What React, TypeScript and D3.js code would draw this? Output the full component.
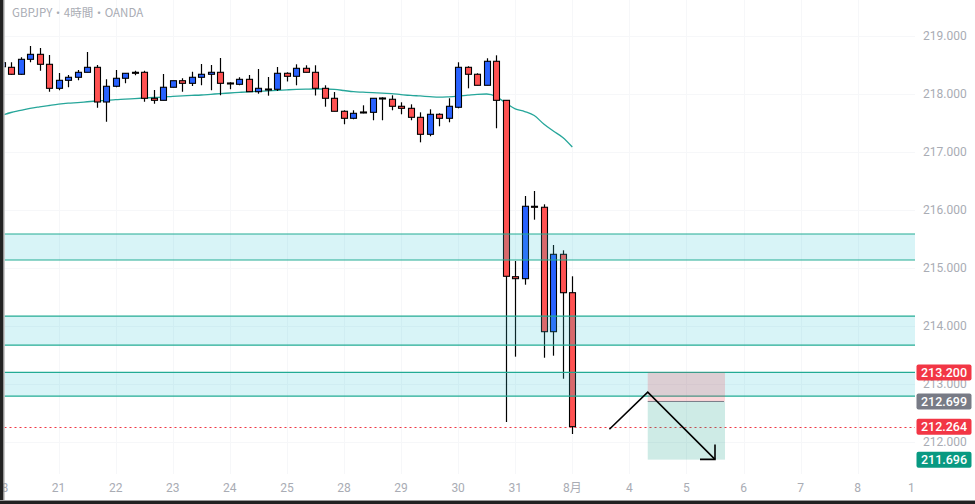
import { useEffect, useRef } from "react";
import * as d3 from "d3";

const WIDTH = 975;
const HEIGHT = 504;

// 4H candles, index 0 = Jul 18 00:00 ... index 60 = Aug 1 00:00
const opens = [
  218.47, 218.46, 218.34, 218.598, 218.684, 218.512, 218.098, 218.236, 218.288, 218.374,
  218.46, 217.862, 218.133, 218.271, 218.374, 218.374, 217.926, 217.891, 218.116, 218.229,
  218.184, 218.288, 218.34, 218.374, 218.19, 218.167, 218.253, 218.04, 218.086, 218.081,
  218.357, 218.305, 218.443, 218.374, 218.098, 217.926, 217.702, 217.581, 217.69, 217.684,
  217.931, 217.909, 217.788, 217.753, 217.598, 217.305, 217.65, 217.581, 217.771, 218.46,
  218.34, 218.15, 218.564, 217.891, 214.85, 214.816, 216.064, 216.047, 213.902, 215.236,
  214.574,
];
const highs = [
  218.56, 218.547, 218.633, 218.828, 218.793, 218.672, 218.362, 218.328, 218.414, 218.724,
  218.5, 218.253, 218.414, 218.36, 218.402, 218.402, 218.069, 218.345, 218.229, 218.271,
  218.384, 218.517, 218.5, 218.621, 218.202, 218.288, 218.328, 218.431, 218.293, 218.466,
  218.374, 218.512, 218.495, 218.495, 218.15, 218.034, 217.719, 217.719, 217.805, 217.926,
  217.943, 217.978, 217.857, 217.822, 217.684, 217.736, 217.667, 217.926, 218.547, 218.478,
  218.357, 218.616, 218.667, 217.891, 215.121, 216.241, 216.328, 216.098, 215.397, 215.305,
  214.857,
];
const lows = [
  218.44, 218.33, 218.33, 218.547, 218.402, 218.04, 218.064, 218.116, 218.236, 218.374,
  217.764, 217.522, 218.116, 218.184, 218.322, 217.867, 217.833, 217.891, 218.116, 218.04,
  218.138, 218.15, 218.064, 217.978, 218.081, 218.15, 218.04, 218.005, 217.971, 218.052,
  218.216, 218.15, 218.374, 217.974, 217.781, 217.702, 217.478, 217.564, 217.667, 217.547,
  217.547, 217.719, 217.65, 217.547, 217.167, 217.271, 217.443, 217.512, 217.753, 218.098,
  218.15, 218.15, 217.409, 212.345, 213.471, 214.712, 215.833, 213.453, 213.488, 213.091,
  212.138,
];
const closes = [
  218.54, 218.34, 218.598, 218.684, 218.512, 218.098, 218.236, 218.288, 218.374, 218.46,
  217.862, 218.133, 218.271, 218.357, 218.364, 217.926, 217.891, 218.116, 218.229, 218.184,
  218.288, 218.34, 218.374, 218.184, 218.18, 218.253, 218.04, 218.098, 218.076, 218.357,
  218.305, 218.443, 218.374, 218.098, 217.926, 217.702, 217.581, 217.667, 217.679, 217.926,
  217.921, 217.788, 217.753, 217.598, 217.305, 217.65, 217.581, 217.788, 218.46, 218.34,
  218.15, 218.564, 217.891, 214.857, 214.816, 216.064, 216.055, 213.902, 215.236, 214.574,
  212.264,
];
const maValues = [
  217.629, 217.681, 217.716, 217.753, 217.779, 217.802, 217.824, 217.841, 217.853, 217.866,
  217.879, 217.89, 217.902, 217.91, 217.921, 217.931, 217.94, 217.948, 217.96, 217.969,
  217.976, 217.983, 217.995, 218.007, 218.017, 218.028, 218.038, 218.047, 218.055, 218.064,
  218.072, 218.079, 218.083, 218.086, 218.086, 218.078, 218.06, 218.04, 218.031, 218.022,
  218.016, 218.005, 217.99, 217.976, 217.966, 217.955, 217.945, 217.952, 217.964, 217.979,
  217.995, 218.0, 217.957, 217.845, 217.745, 217.698, 217.629, 217.483, 217.362, 217.25,
  217.086,
];

// time axis: first 4H bar of each day
const dayLabels = ["18", "21", "22", "23", "24", "25", "28", "29", "30", "31", "8月", "4", "5", "6", "7", "8", "11"];
const dayBarIndex = [0, 6, 12, 18, 24, 30, 36, 42, 48, 54, 60, 66, 72, 78, 84, 90, 96];

const priceTicks = [212, 213, 214, 215, 216, 217, 218, 219];

// support / resistance zones
const zoneTops = [215.586, 214.17, 213.2];
const zoneBottoms = [215.138, 213.67, 212.79];

const lastPrice = 212.264;

// short position tool
const stopPrice = 213.2;
const entryPrice = 212.699;
const targetPrice = 211.696;
const positionFrom = 67.93;
const positionTo = 76.05;

// hand drawn zigzag arrow
const arrowBars = [63.9, 67.93, 75.0];
const arrowPrices = [212.22, 212.86, 211.7];

const COLORS = {
  up: "#2962ff",
  down: "#ff5252",
  outline: "#000000",
  ma: "#26a69a",
  zoneLine: "#22ab94",
  zoneFill: "rgba(60, 200, 215, 0.2)",
  axisText: "#a9acb4",
  lastPrice: "#f23645",
  entry: "#787b86",
  target: "#089981",
  stopFill: "rgba(242, 54, 69, 0.2)",
  targetFill: "rgba(8, 153, 129, 0.2)",
  frame: "#222222",
};

const FONT = "Roboto, 'Noto Sans CJK JP', sans-serif";
const plot = { left: 4.5, right: 915, top: 0, bottom: 474 };

export default function App() {
  const svgRef = useRef<SVGSVGElement>(null);

  useEffect(() => {
    if (!svgRef.current) return;
    const svg = d3.select(svgRef.current);
    svg.selectAll("*").remove();

    const x = d3.scaleLinear().domain([0, 60]).range([1.5, 572.3]);
    const y = d3.scaleLinear().domain([212, 219]).range([442, 36]);

    svg.append("rect").attr("width", WIDTH).attr("height", HEIGHT).attr("fill", "#ffffff");

    const defs = svg.append("defs");
    defs.append("clipPath").attr("id", "plot-clip")
      .append("rect")
      .attr("x", plot.left).attr("y", plot.top)
      .attr("width", plot.right - plot.left).attr("height", plot.bottom - plot.top);

    // ============ GRID ============
    const grid = svg.append("g").attr("clip-path", "url(#plot-clip)");
    grid.selectAll("line.hgrid")
      .data(priceTicks)
      .join("line")
      .attr("x1", plot.left).attr("x2", plot.right)
      .attr("y1", (d) => Math.round(y(d)) + 0.5).attr("y2", (d) => Math.round(y(d)) + 0.5)
      .attr("stroke", "#f6f7f9");
    grid.selectAll("line.vgrid")
      .data(dayBarIndex)
      .join("line")
      .attr("x1", (d) => Math.round(x(d)) + 0.5).attr("x2", (d) => Math.round(x(d)) + 0.5)
      .attr("y1", plot.top).attr("y2", plot.bottom)
      .attr("stroke", "#f6f7f9");

    const g = svg.append("g").attr("clip-path", "url(#plot-clip)");

    // ============ MOVING AVERAGE ============
    const maLine = d3.line<number>()
      .x((_, i) => x(i))
      .y((d) => y(d))
      .curve(d3.curveMonotoneX);
    g.append("path")
      .datum(maValues)
      .attr("d", maLine)
      .attr("fill", "none")
      .attr("stroke", COLORS.ma)
      .attr("stroke-width", 1.3);

    // ============ CANDLES ============
    const bodyW = 6;
    const candles = g.append("g");
    opens.forEach((o, i) => {
      const c = closes[i];
      const cx = Math.round(x(i)) + 0.5;
      const top = y(Math.max(o, c));
      const bot = y(Math.min(o, c));
      candles.append("line")
        .attr("x1", cx).attr("x2", cx)
        .attr("y1", y(highs[i])).attr("y2", y(lows[i]))
        .attr("stroke", COLORS.outline).attr("stroke-width", 1.2);
      candles.append("rect")
        .attr("x", cx - bodyW / 2)
        .attr("y", top)
        .attr("width", bodyW)
        .attr("height", Math.max(1, bot - top))
        .attr("fill", c >= o ? COLORS.up : COLORS.down)
        .attr("stroke", COLORS.outline)
        .attr("stroke-width", 1.1);
    });

    // ============ ZONES ============
    zoneTops.forEach((top, i) => {
      const bottom = zoneBottoms[i];
      g.append("rect")
        .attr("x", plot.left).attr("width", plot.right - plot.left)
        .attr("y", y(top)).attr("height", y(bottom) - y(top))
        .attr("fill", COLORS.zoneFill);
      [top, bottom].forEach((p) => {
        g.append("line")
          .attr("x1", plot.left).attr("x2", plot.right)
          .attr("y1", y(p)).attr("y2", y(p))
          .attr("stroke", COLORS.zoneLine).attr("stroke-width", 1.2);
      });
    });

    // last price dotted line
    g.append("line")
      .attr("x1", plot.left).attr("x2", plot.right)
      .attr("y1", Math.round(y(lastPrice)) + 0.5).attr("y2", Math.round(y(lastPrice)) + 0.5)
      .attr("stroke", COLORS.lastPrice)
      .attr("stroke-width", 1.2)
      .attr("stroke-dasharray", "2,3");

    // ============ POSITION TOOL ============
    const px0 = x(positionFrom);
    const px1 = x(positionTo);
    g.append("rect")
      .attr("x", px0).attr("width", px1 - px0)
      .attr("y", y(stopPrice)).attr("height", y(entryPrice) - y(stopPrice))
      .attr("fill", COLORS.stopFill);
    g.append("rect")
      .attr("x", px0).attr("width", px1 - px0)
      .attr("y", y(entryPrice)).attr("height", y(targetPrice) - y(entryPrice))
      .attr("fill", COLORS.targetFill);
    g.append("line")
      .attr("x1", px0).attr("x2", px1 - 1)
      .attr("y1", y(entryPrice)).attr("y2", y(entryPrice))
      .attr("stroke", COLORS.entry).attr("stroke-width", 1);

    // zigzag arrow
    const arrowPts = arrowBars.map((b, i) => [x(b), y(arrowPrices[i])] as [number, number]);
    g.append("path")
      .attr("d", d3.line()(arrowPts))
      .attr("fill", "none")
      .attr("stroke", "#000").attr("stroke-width", 1.6);
    const [ex, ey] = arrowPts[arrowPts.length - 1];
    g.append("path")
      .attr("d", d3.line()([[ex, ey - 15], [ex, ey], [ex - 15, ey]]))
      .attr("fill", "none")
      .attr("stroke", "#000").attr("stroke-width", 1.6);

    // ============ TITLE ============
    svg.append("text")
      .attr("x", 12).attr("y", 17)
      .attr("font-size", 11.5)
      .attr("font-family", "'Noto Sans CJK JP', sans-serif")
      .attr("fill", COLORS.axisText)
      .text("GBPJPY・4時間・OANDA");

    // ============ TIME AXIS ============
    svg.append("g")
      .selectAll("text")
      .data(dayLabels)
      .join("text")
      .attr("x", (_, i) => x(dayBarIndex[i]))
      .attr("y", 492)
      .attr("text-anchor", "middle")
      .attr("font-size", 12)
      .attr("font-family", FONT)
      .attr("fill", COLORS.axisText)
      .text((d) => d);

    // ============ PRICE AXIS ============
    svg.append("rect")
      .attr("x", plot.right).attr("y", 0)
      .attr("width", WIDTH - plot.right).attr("height", HEIGHT)
      .attr("fill", "#ffffff");
    svg.append("g")
      .selectAll("text")
      .data(priceTicks)
      .join("text")
      .attr("x", 923)
      .attr("y", (d) => y(d))
      .attr("dy", "0.35em")
      .attr("font-size", 12)
      .attr("font-family", FONT)
      .attr("fill", COLORS.axisText)
      .text((d) => d.toFixed(3));

    const badges = [
      { price: stopPrice, color: COLORS.lastPrice },
      { price: entryPrice, color: COLORS.entry },
      { price: lastPrice, color: COLORS.lastPrice },
      { price: targetPrice, color: COLORS.target },
    ];
    badges.forEach((b) => {
      const by = y(b.price);
      svg.append("rect")
        .attr("x", 916.5).attr("y", by - 8)
        .attr("width", 55).attr("height", 16)
        .attr("rx", 2)
        .attr("fill", b.color);
      svg.append("text")
        .attr("x", 944).attr("y", by)
        .attr("dy", "0.36em")
        .attr("text-anchor", "middle")
        .attr("font-size", 12.5)
        .attr("font-weight", 500)
        .attr("font-family", FONT)
        .attr("fill", "#ffffff")
        .text(b.price.toFixed(3));
    });

    // ============ FRAME ============
    svg.append("rect").attr("x", 0).attr("y", 0).attr("width", 3.5).attr("height", HEIGHT).attr("fill", COLORS.frame);
    svg.append("rect").attr("x", 3.5).attr("y", 0).attr("width", 1).attr("height", HEIGHT).attr("fill", "#9a9a9a");
    svg.append("rect").attr("x", 0).attr("y", 500).attr("width", WIDTH).attr("height", 1).attr("fill", "#9a9a9a");
    svg.append("rect").attr("x", 0).attr("y", 501).attr("width", WIDTH).attr("height", 3).attr("fill", COLORS.frame);
  }, []);

  return (
    <svg
      ref={svgRef}
      width={WIDTH}
      height={HEIGHT}
      style={{ position: "fixed", left: 0, top: 0, display: "block" }}
    />
  );
}
